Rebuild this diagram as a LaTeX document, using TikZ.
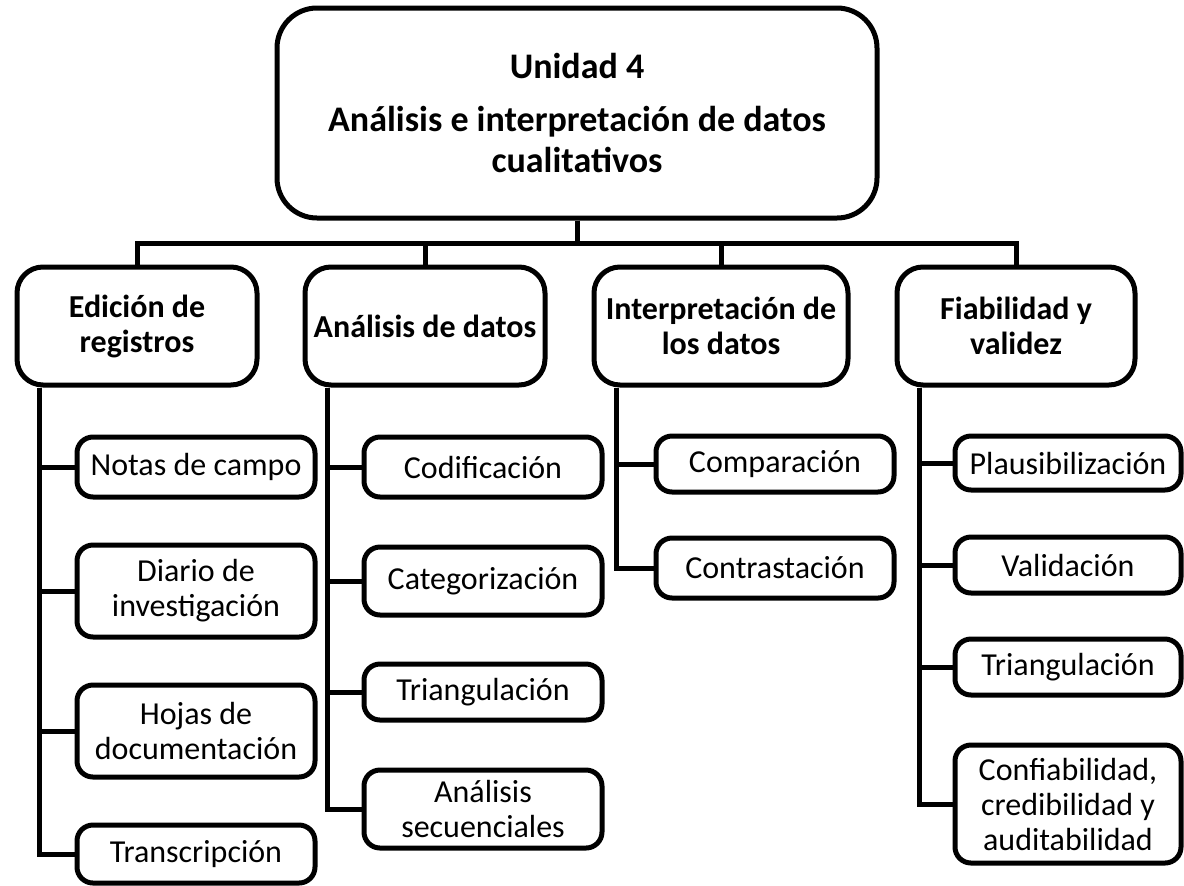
\documentclass[tikz,border=0pt]{standalone}
\usepackage{fontspec}
\setmainfont{Carlito}
\newcommand\boxsize{\fontsize{16}{17.5}\selectfont}
\newcommand\unitsize{\fontsize{18}{20.5}\selectfont}
\tikzset{
  unitbox/.style={draw,line width=2.5pt,rounded corners=20pt,align=center,font=\unitsize\bfseries,minimum width=300pt,minimum height=105pt,inner sep=2pt},
  topicbox/.style={draw,line width=2.5pt,rounded corners=13pt,align=center,font=\boxsize\bfseries,minimum width=120pt,minimum height=59pt,inner sep=2pt},
  itembox/.style={draw,line width=2.5pt,rounded corners=8pt,align=center,font=\boxsize,minimum width=119pt,minimum height=#1,inner sep=2pt},
  itembox/.default=29pt,
  branch/.style={line width=2.5pt}
}
\begin{document}
\begin{tikzpicture}[line cap=butt,line join=miter,x=0.5pt,y=-0.5pt]
	\useasboundingbox (0,0) rectangle (1184,885);
	\node [unitbox] (unidad) at (577,113) {Unidad 4\\[6pt]Análisis e interpretación de datos\\cualitativos};
	\node [topicbox] (edicion) at (137,326) {Edición de\\registros};
	\node [topicbox] (analisis) at (425,326) {Análisis de datos};
	\node [topicbox,minimum width=127pt] (interp) at (721,326) {Interpretación de\\los datos};
	\node [topicbox,minimum width=119pt] (fiab) at (1016,326) {Fiabilidad y\\validez};
	\node [itembox=30pt] (reg1) at (196,467) {Notas de campo};
	\node [itembox=46pt] (reg2) at (196,591) {Diario de\\investigación};
	\node [itembox=46pt] (reg3) at (196,731) {Hojas de\\documentación};
	\node [itembox] (reg4) at (196,854) {Transcripción};
	\node [itembox=30pt] (dat1) at (483,467) {Codificación};
	\node [itembox=34pt] (dat2) at (483,581) {Categorización};
	\node [itembox=28pt] (dat3) at (483,692) {Triangulación};
	\node [itembox=39pt] (dat4) at (483,809) {Análisis\\secuenciales};
	\node [itembox=28pt] (int1) at (775,464) {Comparación};
	\node [itembox=30pt] (int2) at (775,568) {Contrastación};
	\node [itembox=27pt,minimum width=113pt] (fia1) at (1068,463) {Plausibilización};
	\node [itembox=28pt,minimum width=113pt] (fia2) at (1068,565) {Validación};
	\node [itembox=28pt,minimum width=113pt] (fia3) at (1068,667) {Triangulación};
	\node [itembox=59pt,minimum width=113pt] (fia4) at (1068,804) {Confiabilidad,\\credibilidad y\\auditabilidad};
	\foreach \t in {edicion,analisis,interp,fiab}
		\draw [branch] (unidad.south) -- ++(0,23) -| (\t.north);
	\foreach \c in {reg1,reg2,reg3,reg4}
		\draw [branch] ([xshift=12.5pt]edicion.south west) |- (\c.west);
	\foreach \c in {dat1,dat2,dat3,dat4}
		\draw [branch] ([xshift=12.5pt]analisis.south west) |- (\c.west);
	\foreach \c in {int1,int2}
		\draw [branch] ([xshift=12.5pt]interp.south west) |- (\c.west);
	\foreach \c in {fia1,fia2,fia3,fia4}
		\draw [branch] ([xshift=12.5pt]fiab.south west) |- (\c.west);
\end{tikzpicture}
\end{document}
